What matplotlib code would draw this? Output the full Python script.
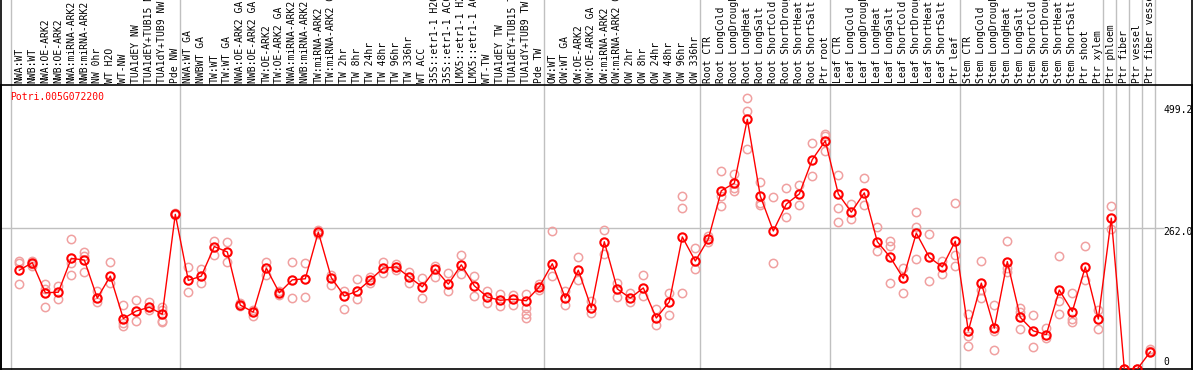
import matplotlib
matplotlib.use("Agg")
import matplotlib.pyplot as plt
from matplotlib.lines import Line2D

# sample names, grouped the way the columns are separated
grp_nw = ["NWA:WT", "NWB:WT", "NWA:OE-ARK2", "NWB:OE-ARK2", "NWA:miRNA-ARK2", "NWB:miRNA-ARK2",
          "NW 0hr", "WT H2O", "WT-NW", "TUA1dEY NW", "TUA1dEY+TUB15 NW", "TUA1dY+TUB9 NW", "Pde NW"]
grp_tw = ["NWA:WT GA", "NWBWT GA", "TW:WT", "TW:WT GA", "NWA:OE-ARK2 GA", "NWB:OE-ARK2 GA",
          "TW:OE-ARK2", "TW:OE-ARK2 GA", "NWA:miRNA-ARK2 GA", "NWB:miRNA-ARK2 GA", "TW:miRNA-ARK2",
          "TW:miRNA-ARK2 GA", "TW 2hr", "TW 8hr", "TW 24hr", "TW 48hr", "TW 96hr", "TW 336hr",
          "WT ACC", "35S::etr1-1 H2O", "35S::etr1-1 ACC", "LMX5::etr1-1 H2O", "LMX5::etr1-1 ACC",
          "WT-TW", "TUA1dEY TW", "TUA1dEY+TUB15 TW", "TUA1dY+TUB9 TW", "Pde TW"]
grp_ow = ["OW:WT", "OW:WT GA", "OW:OE-ARK2", "OW:OE-ARK2 GA", "OW:miRNA-ARK2", "OW:miRNA-ARK2 GA",
          "OW 2hr", "OW 8hr", "OW 24hr", "OW 48hr", "OW 96hr", "OW 336hr"]
stress = ["CTR", "LongCold", "LongDrought", "LongHeat", "LongSalt",
          "ShortCold", "ShortDrought", "ShortHeat", "ShortSalt"]
grp_root = ["Root " + s for s in stress] + ["Ptr root"]
grp_leaf = ["Leaf " + s for s in stress] + ["Ptr leaf"]
grp_stem = ["Stem " + s for s in stress] + ["Ptr shoot", "Ptr xylem"]
grp_ptr = ["Ptr phloem", "Ptr fiber", "Ptr vessel", "Ptr fiber vessel"]
groups = [grp_nw, grp_tw, grp_ow, grp_root, grp_leaf, grp_stem,
          ["Ptr phloem"], ["Ptr fiber"], ["Ptr vessel"], ["Ptr fiber vessel"]]
labels = grp_nw + grp_tw + grp_ow + grp_root + grp_leaf + grp_stem + grp_ptr

gene = "Potri.005G072200"

means = [184, 198, 142, 143, 206, 203, 132, 173, 94, 108, 115, 102, 288,
         165, 173, 228, 218, 119, 106, 188, 142, 166, 168, 255, 170, 136, 145, 166, 188,
         190, 171, 153, 186, 158, 194, 155, 134, 128, 130, 127, 153,
         196, 132, 184, 114, 237, 149, 132, 151, 95, 125, 246, 201,
         242, 332, 346, 465, 322, 257, 307, 326, 390, 425,
         326, 292, 328, 237, 208, 169, 253, 208, 190, 238,
         71, 160, 76, 200, 96, 71, 64, 147, 107, 190, 93,
         281, 0, 0, 32]

reps = [[202, 197, 158], [202, 196, 192], [158, 149, 115], [155, 131], [242, 198, 175],
        [217, 210, 181], [145, 124], [200, 160], [120, 85, 80], [128, 89], [125, 110],
        [116, 110, 90, 88], [290, 288, 286],
        [190, 143], [186, 161], [239, 212], [237, 199], [122, 118], [110, 99], [200, 175],
        [138, 145], [199, 132], [197, 134], [252, 258], [156, 175], [112, 145], [168, 130],
        [160, 172], [199, 178], [196, 184], [160, 180], [132, 170], [192, 172], [179, 145],
        [212, 176], [173, 136], [146, 122], [140, 118], [138, 120], [114, 102, 95, 140],
        [158, 148],
        [257, 173], [146, 120], [209, 165], [104, 126], [259, 214], [160, 134], [141, 124],
        [175, 136], [112, 82], [142, 100], [322, 300, 142], [225, 186],
        [248, 236], [368, 322, 304], [364, 337, 332], [504, 480, 409], [349, 309, 305],
        [320, 197], [337, 283], [343, 305], [420, 359], [438, 433, 406],
        [361, 300, 274], [279, 307], [356, 305], [264, 220], [239, 229, 160], [188, 141],
        [292, 265, 204], [251, 163], [202, 176], [309, 212, 192],
        [102, 62, 43], [202, 147, 132], [119, 70, 35], [238, 188, 181], [113, 106, 74],
        [100, 41], [77, 57], [210, 126, 102], [141, 93, 88], [229, 166], [109, 75],
        [304, 260], [0, 0], [0, 0], [38, 34]]

yticks = [0, 262.0, 499.2]

W, H = 1194, 370
fig = plt.figure(figsize=(W / 100, H / 100), dpi=100)
# plot box: x 1..1192 px, y 85..369 px from top
ax = fig.add_axes([1 / W, 1 / H, 1191 / W, 284 / H])
ax.set_xlim(-1.408, -1.408 + 1191 / 13)
ax.set_ylim(0, 284 / 0.537)
ax.set_xticks([])
ax.set_yticks([])
for s in ax.spines.values():
    s.set_color("black")
    s.set_linewidth(1.2)

ext = 1 + 85 / 284
# column separators, running up through the label strip
start = 0
bounds = []
for g in groups:
    bounds.append(start)
    start += len(g)
bounds.append(start)
for b in bounds:
    ax.axvline(b - 0.64, ymin=0, ymax=ext, color="#c0c0c0", lw=1, clip_on=False, zorder=1)

# horizontal grid at 262
ax.plot([-1.408, 87.95], [yticks[1], yticks[1]], color="#c0c0c0", lw=1, zorder=1)

x = list(range(len(labels)))
rx, ry = [], []
for i, r in enumerate(reps):
    rx += [i] * len(r)
    ry += r
ax.plot(rx, ry, "o", mfc="none", mec="#f0a0a0", mew=1.1, ms=6, zorder=2)
ax.plot(x, means, "-", color="red", lw=1, zorder=3)
ax.plot(x, means, "o", mfc="none", mec="red", mew=1.5, ms=6, zorder=4)

mono = "DejaVu Sans Mono"
for i, lab in enumerate(labels):
    ax.text(i, 1 + 2 / 284, lab, transform=ax.get_xaxis_transform(), rotation=90,
            ha="center", va="bottom", fontsize=7, family=mono, clip_on=False)

# value labels at the right
offs = [7.3, -3.4, -9]
for v, o in zip(yticks, offs):
    txt = "0" if v == 0 else "%.1f" % v
    ax.annotate(txt, (87.98, v), xytext=(0, o * 0.72), textcoords="offset points",
                ha="left", va="center", fontsize=7, family=mono)

fig.text(10 / W, 1 - 97 / H, gene, color="red", fontsize=7, family=mono, va="center")

# outer frame sides through the label strip
fig.add_artist(Line2D([1 / W, 1 / W], [0, 1], color="black", lw=1.2))
fig.add_artist(Line2D([1192 / W, 1192 / W], [0, 1], color="black", lw=1.2))

fig.savefig("out.png", dpi=100)
